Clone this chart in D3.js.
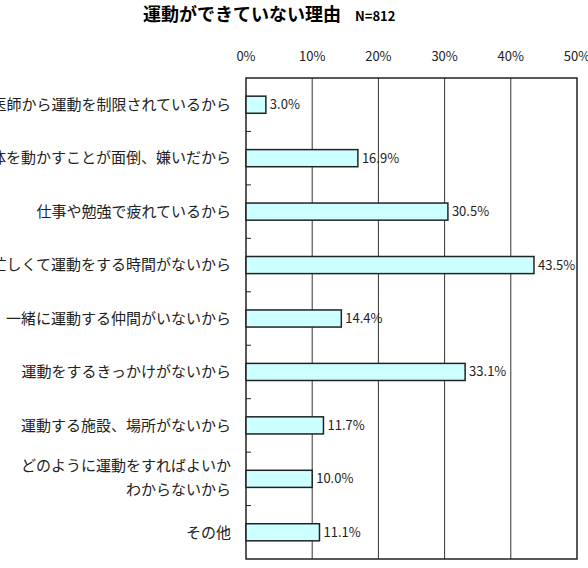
<!DOCTYPE html>
<html>
<head>
<meta charset="utf-8">
<script src="https://cdn.jsdelivr.net/npm/d3@7"></script>
<style>
  body { margin: 0; background: #fff; }
  svg { display: block; }
</style>
</head>
<body>
<svg></svg>
<script>
var reasons = [
  "医師から運動を制限されているから",
  "体を動かすことが面倒、嫌いだから",
  "仕事や勉強で疲れているから",
  "忙しくて運動をする時間がないから",
  "一緒に運動する仲間がいないから",
  "運動をするきっかけがないから",
  "運動する施設、場所がないから",
  "どのように運動をすればよいか\nわからないから",
  "その他"
];
var percents = [3.0, 16.9, 30.5, 43.5, 14.4, 33.1, 11.7, 10.0, 11.1];
var tickValues = [0, 10, 20, 30, 40, 50];

var width = 588, height = 568;
var plotLeft = 246, plotRight = 577, plotTop = 78, plotBottom = 559;
var font = "'Noto Sans CJK JP', 'Noto Sans', sans-serif";

var svg = d3.select("svg")
    .attr("width", width)
    .attr("height", height);

var x = d3.scaleLinear().domain([0, 50]).range([plotLeft, plotRight]);
var y = d3.scaleBand().domain(d3.range(reasons.length)).range([plotTop, plotBottom]).paddingInner(0.68).paddingOuter(0.34);
var band = d3.scaleBand().domain(d3.range(reasons.length)).range([plotTop, plotBottom]);

// title
var title = svg.append("text")
    .attr("x", 143)
    .attr("y", 21)
    .attr("font-family", font)
    .attr("font-weight", "bold")
    .attr("fill", "#000");
title.append("tspan").attr("font-size", 18).text("運動ができていない理由");
title.append("tspan").attr("font-size", 13).attr("dx", 14).text("N=812");

// gridlines
svg.append("g").selectAll("line")
    .data(tickValues.slice(1, -1))
    .enter().append("line")
    .attr("x1", function(d) { return x(d); })
    .attr("x2", function(d) { return x(d); })
    .attr("y1", plotTop)
    .attr("y2", plotBottom)
    .attr("stroke", "#333")
    .attr("stroke-width", 1);

// top axis labels
svg.append("g").selectAll("text")
    .data(tickValues)
    .enter().append("text")
    .attr("x", function(d) { return x(d); })
    .attr("y", 61)
    .attr("text-anchor", "middle")
    .attr("font-family", font)
    .attr("font-size", 13)
    .attr("fill", "#222")
    .text(function(d) { return d + "%"; });

// plot frame
svg.append("rect")
    .attr("x", plotLeft)
    .attr("y", plotTop)
    .attr("width", plotRight - plotLeft)
    .attr("height", plotBottom - plotTop)
    .attr("fill", "none")
    .attr("stroke", "#222")
    .attr("stroke-width", 1.5);

// category boundary ticks
svg.append("g").selectAll("line")
    .data(d3.range(1, reasons.length))
    .enter().append("line")
    .attr("x1", plotLeft)
    .attr("x2", plotLeft + 5)
    .attr("y1", function(i) { return band(i); })
    .attr("y2", function(i) { return band(i); })
    .attr("stroke", "#222");

// bars
svg.append("g").selectAll("rect")
    .data(percents)
    .enter().append("rect")
    .attr("x", x(0))
    .attr("y", function(d, i) { return y(i); })
    .attr("width", function(d) { return x(d) - x(0); })
    .attr("height", y.bandwidth())
    .attr("fill", "#ccffff")
    .attr("stroke", "#222")
    .attr("stroke-width", 1.5);

// value labels
svg.append("g").selectAll("text")
    .data(percents)
    .enter().append("text")
    .attr("x", function(d) { return x(d) + 4; })
    .attr("y", function(d, i) { return y(i) + y.bandwidth() / 2; })
    .attr("dy", "0.35em")
    .attr("font-family", font)
    .attr("font-size", 13)
    .attr("fill", "#222")
    .text(function(d) { return d.toFixed(1) + "%"; });

// category labels
var labels = svg.append("g").selectAll("text")
    .data(reasons)
    .enter().append("text")
    .attr("text-anchor", "end")
    .attr("font-family", font)
    .attr("font-size", 15)
    .attr("fill", "#222")
    .attr("y", function(d, i) { return y(i) + y.bandwidth() / 2; });

labels.each(function(d) {
  var lines = d.split("\n");
  var t = d3.select(this);
  lines.forEach(function(line, j) {
    t.append("tspan")
      .attr("x", 231)
      .attr("dy", j === 0 ? (0.35 - (lines.length - 1) * 0.85) + "em" : "1.6em")
      .text(line);
  });
});
</script>
</body>
</html>
